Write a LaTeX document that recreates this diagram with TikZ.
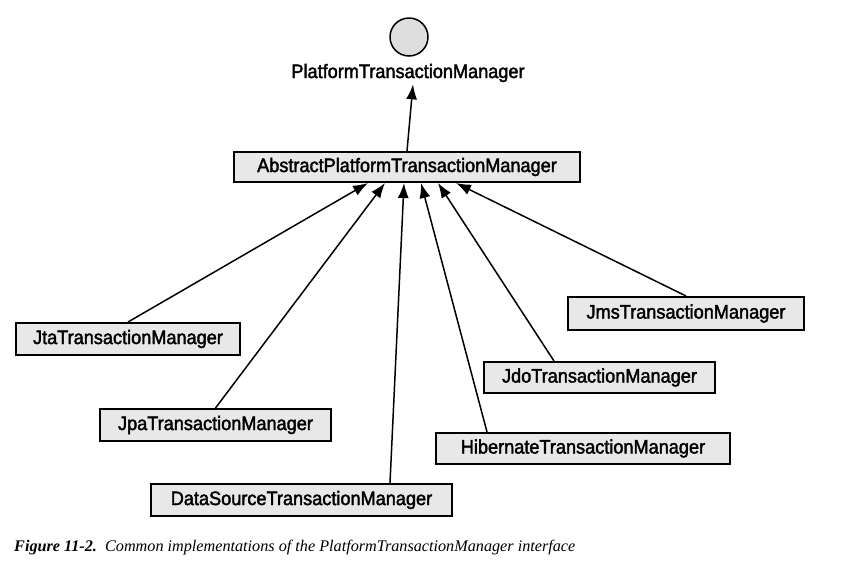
\documentclass[tikz,border=0pt]{standalone}
\usepackage{fontspec}
\setmainfont{Liberation Serif}
\newfontfamily\boxfont[FakeStretch=0.93,FakeBold=2]{Liberation Sans}
\usetikzlibrary{arrows.meta,calc}
\begin{document}
\begin{tikzpicture}[x=1pt,y=-1pt,
  cls/.style={draw,line width=2pt,fill=black!9,inner sep=0pt,font=\boxfont\fontsize{19.5}{22}\selectfont,anchor=center},
  inh/.style={line width=1.5pt,-{Latex[length=15pt,width=11pt]}}]
\useasboundingbox (0,0) rectangle (845,574);
\node[draw,circle,line width=1.5pt,fill=black!13,minimum size=38pt,inner sep=0pt] (ifc) at (409,37) {};
\node[font=\boxfont\fontsize{19.5}{22}\selectfont,inner sep=2pt] (ptm) at (408,73) {PlatformTransactionManager};
\node[cls,minimum width=346pt,minimum height=30pt] (abs) at (407,167) {AbstractPlatformTransactionManager};
\node[cls,minimum width=224pt,minimum height=32pt] (jta) at (128,339) {JtaTransactionManager};
\node[cls,minimum width=231pt,minimum height=32pt] (jpa) at (215.5,425) {JpaTransactionManager};
\node[cls,minimum width=301pt,minimum height=32pt] (ds) at (301.5,500) {DataSourceTransactionManager};
\node[cls,minimum width=294pt,minimum height=31pt] (hib) at (583,448.5) {HibernateTransactionManager};
\node[cls,minimum width=231pt,minimum height=31pt] (jdo) at (599.5,377.5) {JdoTransactionManager};
\node[cls,minimum width=236pt,minimum height=33pt] (jms) at (686,313.5) {JmsTransactionManager};
\draw[inh] (abs.north) -- ([xshift=5pt]ptm.south);
\draw[inh] (jta.north) -- ([xshift=-39pt]abs.south);
\draw[inh] (jpa.north) -- ([xshift=-22pt]abs.south);
\draw[inh] ([xshift=88.5pt]ds.north) -- ([xshift=-3pt]abs.south);
\draw[inh] ([xshift=-96pt]hib.north) -- ([xshift=14pt]abs.south);
\draw[inh] ([xshift=-45.5pt]jdo.north) -- ([xshift=31pt]abs.south);
\draw[inh] (jms.north) -- ([xshift=49pt]abs.south);
\node[anchor=west,inner sep=0pt,font=\fontsize{16.2}{18}\selectfont\itshape] (cap) at (14,548) {\textbf{Figure 11-2.}\enspace Common implementations of the PlatformTransactionManager interface};
\end{tikzpicture}
\end{document}
